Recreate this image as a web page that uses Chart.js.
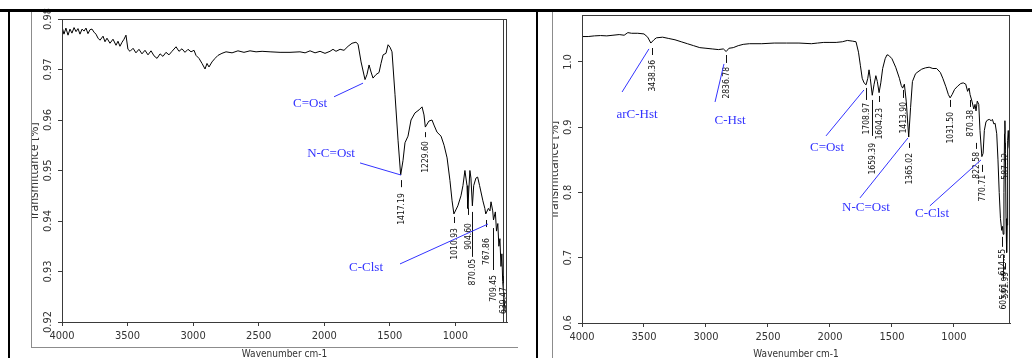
<!DOCTYPE html>
<html>
<head>
<meta charset="utf-8">
<script src="https://cdn.jsdelivr.net/npm/chart.js@4.4.1/dist/chart.umd.min.js"></script>
<style>
  html, body { margin: 0; padding: 0; background: #fff; }
  body { width: 1032px; height: 358px; position: relative; overflow: hidden; }
  canvas { position: absolute; top: 0; }
  #leftChart { left: 0; }
  #rightChart { left: 538px; }
  .blk { position: absolute; background: #000; z-index: 3; }
  .gry { position: absolute; background: #8c8c8c; z-index: 3; }
</style>
</head>
<body>
<canvas id="leftChart" width="520" height="358"></canvas>
<canvas id="rightChart" width="494" height="358"></canvas>

<div class="blk" style="left:0;top:9px;width:1032px;height:3px"></div>
<div class="blk" style="left:8px;top:9px;width:2px;height:349px"></div>
<div class="blk" style="left:536px;top:9px;width:2px;height:349px"></div>
<div class="gry" style="left:31px;top:12px;width:1px;height:336px"></div>
<div class="gry" style="left:31px;top:347px;width:487px;height:1px"></div>
<div class="gry" style="left:552px;top:12px;width:1px;height:346px"></div>

<script>
// ---- data: left spectrum ----
const leftWn = [4000, 3985, 3970, 3954, 3939, 3924, 3908, 3893, 3878, 3863, 3847, 3832, 3817, 3802, 3786, 3771,
  3756, 3741, 3725, 3710, 3687, 3672, 3657, 3634, 3611, 3588, 3573, 3558, 3542, 3527, 3512, 3497, 3481, 3458,
  3436, 3413, 3390, 3367, 3344, 3321, 3298, 3275, 3252, 3230, 3207, 3184, 3161, 3130, 3108, 3085, 3062, 3039,
  3016, 2993, 2978, 2955, 2932, 2909, 2894, 2879, 2856, 2833, 2810, 2780, 2749, 2703, 2658, 2612, 2566, 2520,
  2474, 2413, 2337, 2261, 2185, 2146, 2108, 2070, 2032, 1994, 1956, 1933, 1910, 1879, 1849, 1818, 1788, 1758,
  1742, 1719, 1689, 1674, 1658, 1643, 1628, 1605, 1582, 1567, 1551, 1529, 1513, 1498, 1483, 1460, 1437, 1417,
  1399, 1384, 1361, 1338, 1308, 1277, 1254, 1239, 1229, 1201, 1178, 1163, 1140, 1109, 1086, 1063, 1041, 1025,
  1011, 981, 957, 942, 927, 911, 905, 889, 881, 870, 860, 843, 830, 815, 790, 775, 768, 748, 736, 728, 715,
  709, 695, 686, 676, 668, 660, 652, 645, 639, 630, 620];
const leftT = [0.9785, 0.9770, 0.9782, 0.9768, 0.9780, 0.9772, 0.9783, 0.9775, 0.9781, 0.9770, 0.9780, 0.9776,
  0.9782, 0.9771, 0.9779, 0.9780, 0.9774, 0.9770, 0.9762, 0.9758, 0.9766, 0.9755, 0.9762, 0.9752, 0.9760,
  0.9748, 0.9756, 0.9746, 0.9754, 0.9760, 0.9768, 0.9740, 0.9736, 0.9742, 0.9733, 0.9740, 0.9731, 0.9738,
  0.9729, 0.9737, 0.9727, 0.9722, 0.9731, 0.9726, 0.9734, 0.9729, 0.9736, 0.9745, 0.9736, 0.9741, 0.9734,
  0.9740, 0.9735, 0.9738, 0.9728, 0.9722, 0.9712, 0.9701, 0.9712, 0.9705, 0.9715, 0.9722, 0.9728, 0.9732,
  0.9735, 0.9733, 0.9737, 0.9734, 0.9737, 0.9735, 0.9736, 0.9735, 0.9734, 0.9734, 0.9735, 0.9733, 0.9737,
  0.9733, 0.9736, 0.9732, 0.9736, 0.9740, 0.9736, 0.9740, 0.9738, 0.9746, 0.9752, 0.9754, 0.9750, 0.9715,
  0.9680, 0.9690, 0.9709, 0.9695, 0.9683, 0.9690, 0.9694, 0.9712, 0.9729, 0.9732, 0.9749, 0.9744, 0.9735,
  0.9650, 0.9560, 0.9491, 0.9520, 0.9555, 0.9568, 0.9600, 0.9614, 0.9620, 0.9626, 0.9610, 0.9586, 0.9598,
  0.9600, 0.9590, 0.9576, 0.9568, 0.9550, 0.9525, 0.9480, 0.9440, 0.9414, 0.9430, 0.9450, 0.9470, 0.9500,
  0.9470, 0.9425, 0.9500, 0.9485, 0.9430, 0.9470, 0.9485, 0.9487, 0.9470, 0.9440, 0.9425, 0.9414, 0.9425,
  0.9420, 0.9438, 0.9420, 0.9402, 0.9418, 0.9380, 0.9395, 0.9350, 0.9365, 0.9310, 0.9335, 0.9280, 0.9250,
  0.9220];

// ---- data: right spectrum ----
const rightWn = [4000, 3950, 3900, 3850, 3800, 3750, 3700, 3660, 3630, 3600, 3550, 3500, 3470, 3445, 3420,
  3400, 3350, 3300, 3250, 3200, 3150, 3100, 3050, 3000, 2950, 2900, 2860, 2837, 2815, 2780, 2740, 2700, 2650,
  2550, 2450, 2350, 2250, 2150, 2100, 2050, 2000, 1950, 1900, 1860, 1820, 1790, 1770, 1755, 1740, 1725, 1709,
  1695, 1685, 1675, 1659, 1645, 1630, 1618, 1604, 1590, 1575, 1555, 1540, 1525, 1500, 1470, 1440, 1425, 1414,
  1400, 1385, 1365, 1350, 1335, 1310, 1290, 1260, 1230, 1200, 1170, 1140, 1110, 1090, 1065, 1045, 1031, 1015,
  995, 970, 945, 925, 905, 890, 878, 870, 855, 840, 830, 822, 812, 800, 790, 775, 765, 755, 742, 730, 715,
  700, 690, 678, 668, 655, 645, 635, 625, 615, 608, 603, 597, 592, 589, 585, 580, 575, 571, 567, 562, 556, 550];
const rightT = [1.039, 1.039, 1.040, 1.0405, 1.040, 1.041, 1.042, 1.041, 1.045, 1.044, 1.044, 1.043, 1.038,
  1.029, 1.034, 1.037, 1.038, 1.036, 1.034, 1.031, 1.028, 1.025, 1.022, 1.021, 1.020, 1.019, 1.020, 1.016,
  1.021, 1.022, 1.025, 1.027, 1.028, 1.028, 1.029, 1.029, 1.029, 1.028, 1.029, 1.030, 1.030, 1.030, 1.031,
  1.033, 1.032, 1.031, 1.015, 0.995, 0.975, 0.968, 0.965, 0.975, 0.988, 0.975, 0.949, 0.965, 0.979, 0.970,
  0.953, 0.968, 0.990, 1.005, 1.011, 1.010, 1.005, 0.992, 0.975, 0.964, 0.960, 0.966, 0.940, 0.885, 0.930,
  0.970, 0.982, 0.985, 0.989, 0.991, 0.992, 0.990, 0.990, 0.984, 0.975, 0.962, 0.950, 0.945, 0.950, 0.958,
  0.963, 0.967, 0.968, 0.966, 0.955, 0.960, 0.950, 0.940, 0.928, 0.935, 0.925, 0.940, 0.935, 0.895, 0.855,
  0.860, 0.895, 0.908, 0.911, 0.912, 0.910, 0.912, 0.905, 0.906, 0.890, 0.850, 0.800, 0.760, 0.742, 0.748,
  0.736, 0.800, 0.890, 0.910, 0.860, 0.760, 0.708, 0.750, 0.880, 0.895, 0.870, 0.865];

// ---- ticks ----
const xTickValues = [4000, 3500, 3000, 2500, 2000, 1500, 1000];
const leftYTicks = [0.92, 0.93, 0.94, 0.95, 0.96, 0.97, 0.98];
const rightYTicks = [0.6, 0.7, 0.8, 0.9, 1.0];

// ---- peak labels ----
const leftPeakWn = [1417.19, 1229.60, 1010.93, 904.60, 870.05, 767.86, 709.45, 639.47];
const leftPeakText = ['1417.19', '1229.60', '1010.93', '904.60', '870.05', '767.86', '709.45', '639.47'];
const rightPeakWn = [3438.36, 2836.78, 1708.97, 1659.39, 1604.23, 1413.90, 1365.02, 1031.50, 870.38, 822.58,
  770.71, 614.55, 605.61, 591.99, 587.32];
const rightPeakText = ['3438.36', '2836.78', '1708.97', '1659.39', '1604.23', '1413.90', '1365.02', '1031.50',
  '870.38', '822.58', '770.71', '614.55', '605.61', '591.99', '587.32'];

// ---- band assignments ----
const leftNoteText = ['C=Ost', 'N-C=Ost', 'C-Clst'];
const rightNoteText = ['arC-Hst', 'C-Hst', 'C=Ost', 'N-C=Ost', 'C-Clst'];

// where the peak marks sit (dash top, dash bottom, label top), in transmittance units
const leftPeakLayout = [[0.9481, 0.9467, 0.9455], [0.9576, 0.9566, 0.9558], [0.9408, 0.9396, 0.9386],
  [0.9426, 0.9412, 0.9396], [0.9418, 0.9329, 0.9325], [0.9402, 0.9388, 0.9366], [0.9386, 0.9303, 0.9293],
  [0.9291, 0.9277, 0.9269]];
const rightPeakLayout = [[1.0214, 1.0107, 1.0031], [1.0107, 0.9985, 0.9923], [0.9602, 0.9418, 0.9372],
  [0.9418, 0.8867, 0.8760], [0.9479, 0.9387, 0.9296], [0.9571, 0.9449, 0.9387], [0.8760, 0.8683, 0.8606],
  [0.9418, 0.9311, 0.9234], [0.9418, 0.9311, 0.9265], [0.8760, 0.8668, 0.8622], [0.8423, 0.8315, 0.8270],
  [0.7320, 0.7167, 0.7136], [0.7044, 0.6662, 0.6616], [0.6920, 0.6820, 0.6784], [0.8760, 0.8660, 0.8606]];

// note text centre and leader line ends (wavenumber, transmittance)
const leftNoteLayout = [
  [2108, 0.9632, 1925, 0.9646, 1704, 0.9673],
  [1948, 0.9533, 1727, 0.9515, 1414, 0.9491],
  [1681, 0.9307, 1422, 0.9315, 751, 0.9394]];
const rightNoteLayout = [
  [3556, 0.9188, 3677, 0.954, 3460, 1.020],
  [2806, 0.9096, 2927, 0.9387, 2855, 0.997],
  [2024, 0.8683, 2032, 0.8867, 1726, 0.9571],
  [1710, 0.7764, 1758, 0.7917, 1371, 0.8836],
  [1177, 0.7672, 1194, 0.7795, 782, 0.8499]];

const NARROW = "'Liberation Sans Narrow', 'DejaVu Sans Condensed', Arial, sans-serif";
const AXIS = '#3a3a3a';
const BLUE = '#3333ff';

function spectrumPlugin(opt) {
  return {
    id: 'spectrumDecor',
    afterDraw(chart) {
      const { ctx, chartArea: a, scales: { x, y } } = chart;
      ctx.save();

      // plot frame
      ctx.strokeStyle = AXIS;
      ctx.lineWidth = 1;
      ctx.strokeRect(Math.round(a.left) + 0.5, Math.round(a.top) + 0.5,
        Math.round(a.right - a.left) - 1, Math.round(a.bottom - a.top));
      if (opt.doubleEdge) {
        ctx.beginPath();
        ctx.moveTo(Math.round(a.right) - 3.5, a.top);
        ctx.lineTo(Math.round(a.right) - 3.5, a.bottom);
        ctx.stroke();
      }

      // rotated y tick labels
      ctx.fillStyle = '#333';
      ctx.font = '11px ' + NARROW;
      ctx.textAlign = 'center';
      ctx.textBaseline = 'middle';
      y.ticks.forEach(t => {
        ctx.save();
        ctx.translate(a.left - 14, y.getPixelForValue(t.value));
        ctx.rotate(-Math.PI / 2);
        ctx.fillText(t.label, 0, 0);
        ctx.restore();
      });

      // y title, clipped by the panel frame
      ctx.save();
      ctx.beginPath();
      ctx.rect(opt.clipLeft, 0, 200, chart.height);
      ctx.clip();
      ctx.translate(a.left - 27, (a.top + a.bottom) / 2 + 1);
      ctx.rotate(-Math.PI / 2);
      ctx.font = '12px ' + NARROW;
      ctx.fillText('Transmittance [%]', 0, 0);
      ctx.restore();

      // peak marks
      ctx.font = '8.5px ' + NARROW;
      ctx.fillStyle = '#111';
      ctx.strokeStyle = '#111';
      opt.peakWn.forEach((wn, i) => {
        const [d1, d2, lt] = opt.peakLayout[i];
        const px = Math.round(x.getPixelForValue(wn)) + 0.5;
        ctx.beginPath();
        ctx.moveTo(px, y.getPixelForValue(d1));
        ctx.lineTo(px, y.getPixelForValue(d2));
        ctx.stroke();
        ctx.save();
        ctx.translate(px, y.getPixelForValue(lt));
        ctx.rotate(-Math.PI / 2);
        ctx.textAlign = 'right';
        ctx.fillText(opt.peakText[i], 0, 0);
        ctx.restore();
      });

      // band assignments
      ctx.font = '13px "Liberation Serif", "Times New Roman", serif';
      ctx.fillStyle = BLUE;
      ctx.strokeStyle = BLUE;
      ctx.textAlign = 'center';
      opt.noteText.forEach((txt, i) => {
        const [tw, tt, w1, t1, w2, t2] = opt.noteLayout[i];
        ctx.fillText(txt, x.getPixelForValue(tw), y.getPixelForValue(tt));
        ctx.beginPath();
        ctx.moveTo(x.getPixelForValue(w1), y.getPixelForValue(t1));
        ctx.lineTo(x.getPixelForValue(w2), y.getPixelForValue(t2));
        ctx.stroke();
      });

      ctx.restore();
    }
  };
}

function makeSpectrum(id, wn, tr, o) {
  const points = wn.map((w, i) => ({ x: w, y: tr[i] }));
  return new Chart(document.getElementById(id), {
    type: 'line',
    data: {
      datasets: [{
        data: points,
        borderColor: '#000',
        borderWidth: 1,
        pointRadius: 0,
        tension: 0,
        fill: false
      }]
    },
    options: {
      responsive: false,
      animation: false,
      devicePixelRatio: 1,
      layout: { padding: { left: 0, top: o.top, right: o.right, bottom: 0 } },
      plugins: { legend: { display: false }, tooltip: { enabled: false } },
      scales: {
        x: {
          type: 'linear',
          reverse: true,
          min: o.xMin,
          max: 4000,
          afterBuildTicks: s => { s.ticks = xTickValues.map(v => ({ value: v })); },
          afterFit: s => { s.height = o.xHeight; },
          grid: { drawOnChartArea: false, drawTicks: true, tickLength: 4, color: AXIS },
          border: { color: AXIS },
          ticks: {
            color: '#333',
            padding: 4,
            maxRotation: 0,
            font: { family: NARROW, size: 11 },
            callback: v => String(v)
          },
          title: {
            display: true,
            text: 'Wavenumber cm-1',
            color: '#333',
            padding: { top: 0, bottom: -2 },
            font: { family: NARROW, size: 10 }
          }
        },
        y: {
          type: 'linear',
          min: o.yMin,
          max: o.yMax,
          afterBuildTicks: s => { s.ticks = o.yTicks.map(v => ({ value: v })); },
          afterFit: s => { s.width = o.yWidth; },
          grid: { drawOnChartArea: false, drawTicks: true, tickLength: 4, color: AXIS },
          border: { color: AXIS },
          ticks: { display: false, callback: v => o.fmt(v) }
        }
      }
    },
    plugins: [spectrumPlugin(o)]
  });
}

makeSpectrum('leftChart', leftWn, leftT, {
  top: 19, right: 13, xHeight: 36, yWidth: 62,
  xMin: 606, yMin: 0.92, yMax: 0.98, yTicks: leftYTicks,
  fmt: v => v.toFixed(2), clipLeft: 32, doubleEdge: true,
  peakWn: leftPeakWn, peakText: leftPeakText, peakLayout: leftPeakLayout,
  noteText: leftNoteText, noteLayout: leftNoteLayout
});

makeSpectrum('rightChart', rightWn, rightT, {
  top: 15, right: 22, xHeight: 35, yWidth: 44,
  xMin: 548, yMin: 0.6, yMax: 1.072, yTicks: rightYTicks,
  fmt: v => v.toFixed(1), clipLeft: 15, doubleEdge: false,
  peakWn: rightPeakWn, peakText: rightPeakText, peakLayout: rightPeakLayout,
  noteText: rightNoteText, noteLayout: rightNoteLayout
});
</script>
</body>
</html>
